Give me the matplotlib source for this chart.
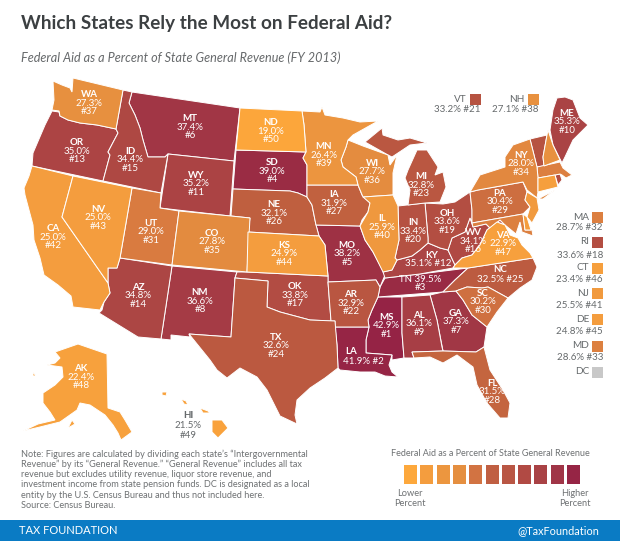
import matplotlib
matplotlib.use('Agg')
import matplotlib.pyplot as plt
import numpy as np
from matplotlib.colors import to_rgb
from matplotlib.patches import Polygon, Rectangle

plt.rcParams['font.family'] = ['Lato', 'DejaVu Sans']

STATES = ['MS', 'LA', 'TN', 'SD', 'MO', 'MT', 'GA', 'NM', 'AL', 'ME', 'WY', 'KY', 'OR',
          'AZ', 'ID', 'WV', 'OK', 'RI', 'OH', 'IN', 'VT', 'AR', 'MI', 'TX', 'NC', 'NE',
          'IA', 'FL', 'PA', 'SC', 'UT', 'MA', 'MD', 'NY', 'CO', 'WI', 'WA', 'NH', 'MN',
          'IL', 'NJ', 'CA', 'NV', 'KS', 'DE', 'CT', 'VA', 'AK', 'HI', 'ND']
VALUES = [42.9, 41.9, 39.5, 39.0, 38.2, 37.4, 37.3, 36.6, 36.1, 35.3, 35.2, 35.1, 35.0,
          34.8, 34.4, 34.1, 33.8, 33.6, 33.6, 33.4, 33.2, 32.9, 32.8, 32.6, 32.5, 32.1,
          31.9, 31.5, 30.4, 30.2, 29.0, 28.7, 28.6, 28.0, 27.8, 27.7, 27.3, 27.1, 26.4,
          25.9, 25.5, 25.0, 25.0, 24.9, 24.8, 23.4, 22.9, 22.4, 21.5, 19.0]
RANKS = list(range(1, 51))

LEGEND_COLORS = ['#FDA83C', '#F49D3E', '#EC963F', '#E58F40', '#D27342', '#C05F42',
                 '#B95644', '#B14A44', '#A94245', '#A03547', '#962545']
RAMP_VALUES = [19, 25, 27.5, 29, 32, 34, 36.5, 39, 43]
RAMP_COLORS = ['#FCA63B', '#F49D3E', '#E68F3F', '#D97B40', '#C0603F', '#B04A43',
               '#A53C45', '#9A2C44', '#952345']

NOTE_LINES = [
    'Note: Figures are calculated by dividing each state\u2019s \u201cIntergovernmental',
    'Revenue\u201d by its \u201cGeneral Revenue.\u201d \u201cGeneral Revenue\u201d includes all tax',
    'revenue but excludes utility revenue, liquor store revenue, and',
    'investment income from state pension funds. DC is designated as a local',
    'entity by the U.S. Census Bureau and thus not included here.',
    'Source: Census Bureau.',
]

# state outlines, in pixels
SHAPES = {
    'WA': [[(53, 81), (62, 85), (70, 88), (72, 92), (73, 78), (123, 90), (116, 129), (97, 125),
            (80, 123), (68, 120), (60, 116), (59, 111), (52, 110), (54, 100)]],
    'OR': [[(52, 111), (59, 112), (60, 116), (68, 120), (80, 123), (97, 125), (116, 129),
            (118, 133), (108, 152), (110, 155), (103, 181), (32, 166), (33, 153), (45, 125)]],
    'ID': [[(123, 90), (132, 92), (129, 103), (135, 115), (140, 128), (143, 140), (148, 157),
            (165, 157), (168, 154), (161, 193), (103, 181), (110, 155), (108, 152), (118, 133),
            (116, 129)]],
    'MT': [[(132, 92), (240, 108), (234, 161), (168, 154), (165, 157), (148, 157), (143, 140),
            (140, 128), (135, 115), (129, 103)]],
    'WY': [[(168, 154), (234, 161), (230, 216), (160, 208)]],
    'ND': [[(240, 108), (302, 111), (304, 125), (306, 152), (236, 150)]],
    'SD': [[(236, 150), (306, 152), (303, 158), (307, 165), (307, 197), (298, 193), (290, 191),
            (233, 189)]],
    'NE': [[(233, 189), (290, 191), (298, 193), (307, 197), (312, 205), (316, 225), (319, 236),
            (248, 232), (250, 218), (231, 216)]],
    'CO': [[(179, 211), (231, 216), (250, 218), (247, 272), (172, 265)]],
    'UT': [[(132, 188), (161, 193), (160, 208), (179, 211), (172, 265), (120, 258)]],
    'NV': [[(73, 176), (132, 188), (120, 258), (117, 268), (108, 268), (108, 283), (62, 217)]],
    'CA': [[(32, 166), (73, 176), (62, 217), (108, 283), (110, 293), (104, 302), (100, 310),
            (73, 307), (71, 296), (58, 285), (44, 275), (40, 258), (34, 240), (33, 225),
            (25, 195), (24, 188), (29, 176)]],
    'AZ': [[(120, 258), (172, 266), (161, 339), (138, 337), (99, 313), (102, 310), (104, 302),
            (110, 293), (108, 283), (108, 268), (117, 268)]],
    'NM': [[(172, 266), (237, 272), (235, 278), (231, 337), (189, 334), (190, 337), (171, 335),
            (171, 340), (161, 339)]],
    'TX': [[(235, 278), (268, 281), (267, 307), (280, 312), (295, 316), (310, 320), (335, 321),
            (337, 345), (338, 368), (325, 378), (310, 388), (297, 400), (295, 415), (297, 424),
            (280, 416), (272, 400), (267, 390), (257, 377), (240, 368), (227, 378), (217, 370),
            (210, 360), (189, 334), (231, 337)]],
    'OK': [[(237, 272), (247, 272), (328, 276), (328, 282), (331, 321), (310, 320), (295, 316),
            (280, 312), (267, 307), (268, 281), (235, 278)]],
    'KS': [[(248, 232), (319, 236), (325, 245), (328, 276), (247, 272)]],
    'MN': [[(302, 111), (320, 112), (322, 107), (325, 115), (343, 118), (360, 122), (378, 121),
            (353, 135), (348, 140), (346, 147), (341, 160), (343, 167), (356, 177), (358, 185),
            (307, 185), (307, 165), (303, 158), (306, 152), (304, 125)]],
    'IA': [[(307, 185), (358, 185), (362, 195), (370, 203), (368, 212), (362, 220), (360, 226),
            (316, 225), (312, 205), (307, 197)]],
    'MO': [[(316, 225), (360, 226), (365, 240), (373, 252), (380, 265), (385, 275), (380, 287),
            (376, 280), (328, 282), (328, 276), (325, 245), (319, 236)]],
    'AR': [[(328, 282), (376, 280), (380, 287), (378, 297), (372, 310), (368, 320), (369, 327),
            (335, 327), (335, 321), (331, 321)]],
    'LA': [[(335, 327), (369, 327), (366, 340), (366, 353), (392, 355), (389, 365), (392, 372),
            (398, 377), (385, 376), (375, 372), (360, 372), (340, 370), (338, 368), (337, 345)]],
    'MS': [[(378, 297), (402, 297), (402, 333), (404, 358), (392, 360), (392, 355), (366, 353),
            (366, 340), (369, 327), (368, 320), (372, 310)]],
    'AL': [[(402, 297), (430, 295), (437, 320), (442, 347), (443, 351), (412, 352), (414, 358),
            (404, 358), (402, 333)]],
    'GA': [[(430, 295), (443, 292), (456, 291), (463, 300), (472, 315), (487, 327), (484, 347),
            (476, 352), (443, 351), (437, 320)]],
    'FL': [[(412, 352), (443, 351), (476, 352), (484, 347), (490, 370), (503, 390), (510, 403),
            (508, 418), (500, 418), (487, 403), (477, 385), (473, 367), (457, 355), (443, 363),
            (430, 357), (414, 358)]],
    'SC': [[(456, 291), (467, 287), (482, 288), (488, 287), (508, 298), (497, 312), (487, 327),
            (472, 315), (463, 300)]],
    'NC': [[(468, 268), (533, 258), (537, 267), (532, 280), (520, 288), (508, 298), (488, 287),
            (482, 288), (467, 287), (456, 291), (443, 292), (455, 280)]],
    'TN': [[(385, 278), (420, 274), (468, 268), (455, 280), (443, 292), (378, 297), (380, 287)]],
    'KY': [[(385, 278), (383, 272), (392, 270), (397, 260), (412, 256), (420, 250), (428, 243),
            (440, 248), (448, 250), (455, 265), (453, 268), (420, 274)]],
    'VA': [[(453, 268), (455, 265), (462, 258), (472, 255), (480, 245), (487, 230), (497, 222),
            (505, 225), (510, 235), (518, 238), (522, 245), (530, 253), (533, 258), (468, 268)]],
    'WV': [[(448, 250), (452, 238), (465, 232), (470, 218), (473, 227), (486, 224), (490, 228),
            (500, 220), (505, 225), (497, 222), (487, 230), (480, 245), (472, 255), (462, 258),
            (455, 265)]],
    'OH': [[(425, 203), (443, 204), (455, 202), (470, 192), (472, 210), (472, 222), (470, 218),
            (465, 232), (452, 238), (448, 250), (440, 248), (428, 243), (428, 238)]],
    'IN': [[(398, 206), (425, 203), (428, 238), (428, 243), (420, 250), (412, 256), (397, 260),
            (395, 258), (399, 240)]],
    'IL': [[(363, 197), (393, 195), (398, 206), (399, 240), (395, 258), (397, 260), (392, 270),
            (383, 272), (373, 252), (365, 240), (360, 226), (368, 212), (370, 203)]],
    'WI': [[(348, 140), (353, 142), (363, 146), (388, 155), (390, 165), (397, 155), (393, 173),
            (393, 195), (363, 197), (358, 185), (356, 177), (343, 167), (341, 160), (346, 147)]],
    'MI': [[(365, 142), (382, 128), (383, 135), (398, 140), (410, 138), (427, 143), (410, 145),
            (392, 157), (388, 155)],
           [(405, 178), (408, 170), (417, 150), (427, 150), (438, 167), (435, 175), (443, 172),
            (446, 187), (440, 202), (425, 203), (408, 205), (410, 190)]],
    'NY': [[(480, 175), (505, 167), (505, 157), (513, 145), (530, 139), (537, 167), (538, 178),
            (538, 192), (537, 198), (527, 190), (523, 182), (478, 190), (470, 192)],
           [(538, 199), (555, 190), (543, 199)]],
    'PA': [[(470, 192), (478, 190), (523, 182), (527, 192), (525, 200), (530, 207), (523, 214),
            (472, 223), (472, 210)]],
    'NJ': [[(527, 192), (537, 198), (539, 210), (532, 223), (527, 217), (530, 207), (525, 200)]],
    'DE': [[(523, 214), (527, 217), (531, 230), (525, 230)]],
    'MD': [[(472, 223), (523, 214), (525, 230), (532, 230), (533, 236), (522, 232), (520, 222),
            (516, 234), (505, 225), (500, 220), (490, 228), (486, 224), (473, 227)]],
    'CT': [[(538, 178), (555, 175), (558, 187), (538, 192)]],
    'RI': [[(555, 175), (560, 174), (562, 180), (558, 185)]],
    'MA': [[(537, 167), (560, 162), (563, 168), (572, 175), (566, 178), (562, 175), (560, 174),
            (555, 175), (538, 178)]],
    'VT': [[(530, 139), (547, 135), (543, 157), (544, 166), (537, 167)]],
    'NH': [[(548, 130), (553, 145), (560, 160), (544, 166), (543, 157), (547, 135)]],
    'ME': [[(557, 98), (565, 97), (573, 100), (580, 118), (588, 125), (573, 140), (565, 157),
            (562, 163), (553, 145), (550, 130), (553, 110)]],
    'AK': [[(55, 352), (78, 344), (107, 354), (108, 408), (120, 412), (125, 420), (132, 432),
            (121, 440), (118, 433), (113, 425), (105, 415), (90, 405), (80, 403), (77, 410),
            (60, 422), (40, 427), (23, 431), (38, 424), (55, 420), (50, 412), (43, 403),
            (43, 393), (55, 385), (63, 377), (62, 367), (47, 365), (55, 363), (60, 358)],
           [(72, 420), (75, 424), (68, 428)], [(33, 372), (36, 376), (33, 376)]],
    'HI': [[(162, 392), (167, 392), (166, 396), (162, 395)], [(181, 399), (186, 401), (188, 405),
            (184, 404)], [(200, 408), (208, 411), (210, 413), (203, 413)],
           [(212, 420), (222, 420), (228, 428), (218, 438), (212, 432)]],
}

# middle line of the stacked map labels
STACK_POS = {
    'WA': (89, 103), 'OR': (77, 151), 'ID': (130, 160), 'MT': (190, 127), 'ND': (271, 131),
    'SD': (272, 171), 'WY': (196, 184), 'NE': (274, 213), 'UT': (151, 232), 'CO': (212, 242),
    'NV': (98, 218), 'CA': (53, 237), 'KS': (284, 254), 'AZ': (138, 296), 'NM': (200, 301),
    'OK': (295, 295), 'TX': (276, 346), 'AK': (81, 377), 'MN': (324, 155), 'WI': (372, 172),
    'IA': (334, 203), 'IL': (382, 227), 'MO': (347, 254), 'MI': (421, 185), 'IN': (413, 231),
    'OH': (447, 222), 'WV': (473, 241), 'VA': (503, 244), 'SC': (483, 302), 'AR': (351, 303),
    'MS': (386, 326), 'AL': (419, 324), 'GA': (456, 322), 'FL': (492, 392), 'ME': (567, 122),
    'NY': (521, 164), 'PA': (500, 202),
}
# labels that run value and rank on one line: abbreviation at first spot, rest at second
LINE_POS = {'KY': ((432, 256), (428, 264)), 'NC': ((500, 270), (500, 279)),
            'LA': ((351, 352), (363, 361))}

# outside labels: right edge of the text, abbreviation y, value y
SIDE_POS = {'VT': (481, 99, 109), 'NH': (539, 99, 109), 'MA': (603, 217, 228),
            'RI': (603, 242, 255), 'CT': (603, 268, 280), 'NJ': (603, 293, 306),
            'DE': (603, 319, 332), 'MD': (603, 346, 358)}

GREY = '#666a6c'
WHITE_TXT = dict(color='white', ha='center', va='center', fontsize=7)


def state_color(value):
    rgb = np.array([to_rgb(c) for c in RAMP_COLORS])
    return tuple(np.interp(value, RAMP_VALUES, rgb[:, i]) for i in range(3))


fig = plt.figure(figsize=(6.2, 5.41), dpi=100)
ax = fig.add_axes([0, 0, 1, 1])
ax.set_xlim(0, 620)
ax.set_ylim(541, 0)
ax.axis('off')

ax.text(21, 24, 'Which States Rely the Most on Federal Aid?', fontsize=13.6, fontweight='bold',
        color='#3c4042', va='center')
ax.text(21, 58, 'Federal Aid as a Percent of State General Revenue (FY 2013)', fontsize=9.1,
        style='italic', color='#66696b', va='center')

for state, value, rank in zip(STATES, VALUES, RANKS):
    color = state_color(value)
    for ring in SHAPES[state]:
        ax.add_patch(Polygon(ring, closed=True, facecolor=color, edgecolor='white', linewidth=0.7))

    label = f'{value:.1f}%'
    if state in STACK_POS:
        x, y = STACK_POS[state]
        ax.text(x, y - 8.8, state, fontweight='bold', **WHITE_TXT)
        ax.text(x, y, label, **WHITE_TXT)
        ax.text(x, y + 8.8, f'#{rank}', **WHITE_TXT)
    elif state in LINE_POS:
        (x0, y0), (x1, y1) = LINE_POS[state]
        ax.text(x0, y0, state, fontweight='bold', **WHITE_TXT)
        ax.text(x1, y1, f'{label} #{rank}', **WHITE_TXT)
    elif state == 'TN':
        ax.text(420, 279, f'TN {label}', **WHITE_TXT)
        ax.text(420, 288, f'#{rank}', **WHITE_TXT)
    elif state == 'HI':
        ax.text(188, 416, state, color=GREY, ha='center', va='center', fontsize=7, fontweight='bold')
        ax.text(188, 425, label, color=GREY, ha='center', va='center', fontsize=7)
        ax.text(188, 435, f'#{rank}', color=GREY, ha='center', va='center', fontsize=7)
    elif state in SIDE_POS:
        x, y0, y1 = SIDE_POS[state]
        ax.add_patch(Rectangle((x - 11, y0 - 5), 10.5, 10.5, facecolor=color, edgecolor='none'))
        ax.text(x - 14, y0, state, color=GREY, ha='right', va='center', fontsize=7.2)
        ax.text(x, y1, f'{label} #{rank}', color=GREY, ha='right', va='center', fontsize=7)

# DC has no value, only the swatch
ax.add_patch(Rectangle((592, 367), 10.5, 10.5, facecolor='#c8c8c8', edgecolor='none'))
ax.text(589, 372, 'DC', color=GREY, ha='right', va='center', fontsize=7.2)

for i, line in enumerate(NOTE_LINES):
    ax.text(21, 454 + i * 10.25, line, fontsize=6.6, color='#6e7173', va='center')

ax.text(490, 453.5, 'Federal Aid as a Percent of State General Revenue', fontsize=6.5,
        color='#6e7173', ha='center', va='center')
for i, c in enumerate(LEGEND_COLORS):
    ax.add_patch(Rectangle((404 + i * 16.3, 465), 13, 19, facecolor=c, edgecolor='none'))
ax.text(410, 494, 'Lower', fontsize=6.7, color='#6e7173', ha='center', va='center')
ax.text(410, 504, 'Percent', fontsize=6.7, color='#6e7173', ha='center', va='center')
ax.text(575, 494, 'Higher', fontsize=6.7, color='#6e7173', ha='center', va='center')
ax.text(575, 504, 'Percent', fontsize=6.7, color='#6e7173', ha='center', va='center')

ax.add_patch(Rectangle((0, 520), 620, 21, facecolor='#0a7bc4', edgecolor='none'))
ax.text(19, 530.5, 'TAX FOUNDATION', fontsize=8, color='white', va='center')
ax.text(599, 530.5, '@TaxFoundation', fontsize=7.8, color='white', ha='right', va='center')

fig.savefig('out.png', dpi=100)
